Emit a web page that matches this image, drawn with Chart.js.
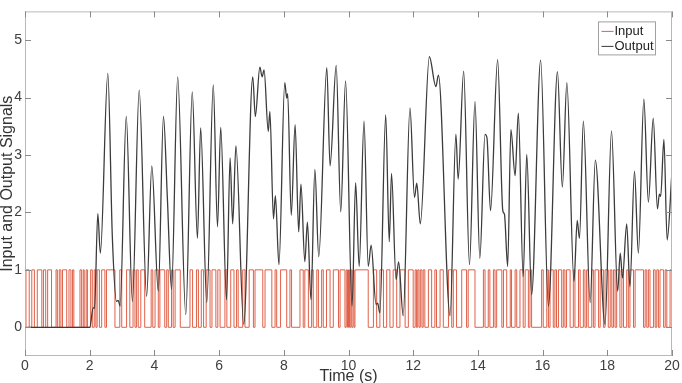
<!DOCTYPE html>
<html>
<head>
<meta charset="utf-8">
<script src="https://cdn.jsdelivr.net/npm/chart.js@4.4.1/dist/chart.umd.min.js"></script>
<style>
  html, body { margin: 0; padding: 0; background: #ffffff; }
  #wrap { width: 682px; height: 383px; }
</style>
</head>
<body>
<div id="wrap"><canvas id="grafico" width="682" height="383"></canvas></div>
<script>
// ==================== DADOS ====================
// tempos em que a entrada binária muda de nível (começa em 0)
const inputEdges = [
  0.03, 0.13, 0.21, 0.29, 0.38, 0.52, 0.57, 0.64, 0.70, 0.82, 0.96, 1.00, 1.06, 1.11, 1.16, 1.29,
  1.36, 1.42, 1.47, 1.51, 1.70, 1.75, 1.80, 1.83, 1.89, 1.93, 2.03, 2.08, 2.14, 2.19, 2.23, 2.30,
  2.37, 2.47, 2.52, 2.78, 2.93, 2.99, 3.14, 3.24, 3.34, 3.40, 3.45, 3.50, 3.58, 3.70, 3.90, 3.95,
  4.02, 4.12, 4.17, 4.32, 4.38, 4.43, 4.53, 4.58, 4.64, 4.80, 5.10, 5.18, 5.30, 5.36, 5.45, 5.52,
  5.60, 5.72, 5.78, 5.90, 5.96, 6.03, 6.18, 6.24, 6.36, 6.46, 6.54, 6.59, 6.73, 6.80, 6.93, 7.06,
  7.11, 7.35, 7.42, 7.63, 7.73, 7.78, 7.90, 8.09, 8.19, 8.24, 8.50, 8.60, 8.65, 8.76, 8.86, 8.91,
  9.02, 9.07, 9.17, 9.22, 9.32, 9.43, 9.53, 9.69, 9.74, 9.89, 9.93, 9.97, 10.00, 10.03, 10.07, 10.10,
  10.14, 10.17, 10.20, 10.61, 10.77, 10.87, 10.97, 11.08, 11.18, 11.28, 11.38, 11.49, 11.59, 11.75,
  11.85, 12.00, 12.06, 12.10, 12.14, 12.18, 12.22, 12.27, 12.31, 12.36, 12.47, 12.57, 12.67, 12.72,
  12.83, 12.93, 13.09, 13.19, 13.24, 13.34, 13.50, 13.65, 13.70, 13.91, 14.17, 14.22, 14.32, 14.37,
  14.48, 14.53, 14.58, 14.74, 14.79, 14.89, 15.00, 15.04, 15.15, 15.20, 15.30, 15.40, 15.46, 15.56,
  15.61, 15.66, 15.97, 16.02, 16.13, 16.18, 16.23, 16.33, 16.38, 16.43, 16.49, 16.59, 16.64, 16.69,
  16.74, 16.85, 16.95, 17.00, 17.11, 17.16, 17.26, 17.31, 17.36, 17.41, 17.52, 17.57, 17.62, 17.73,
  17.78, 17.88, 17.93, 18.03, 18.09, 18.14, 18.19, 18.24, 18.29, 18.39, 18.45, 18.50, 18.60, 18.65,
  18.70, 18.81, 18.86, 19.12, 19.17, 19.22, 19.27, 19.32, 19.43, 19.48, 19.53, 19.58, 19.63, 19.74,
  19.79, 19.84, 19.94
];

// saída (picos e vales)
const outTimes = [
  0, 2.00, 2.11, 2.15, 2.25, 2.33, 2.56, 2.70, 2.83, 2.88, 2.94, 3.13, 3.32, 3.53, 3.76, 3.92,
  4.12, 4.28, 4.40, 4.53, 4.72, 4.97, 5.17, 5.33, 5.43, 5.62, 5.82, 5.95, 6.05, 6.23, 6.34, 6.42,
  6.52, 6.76, 7.04, 7.12, 7.26, 7.33, 7.39, 7.52, 7.57, 7.68, 7.74, 7.85, 8.03, 8.09, 8.12, 8.23,
  8.35, 8.46, 8.53, 8.65, 8.73, 8.84, 8.96, 9.08, 9.33, 9.43, 9.62, 9.76, 9.91, 10.11, 10.22, 10.33,
  10.48, 10.61, 10.70, 10.85, 10.90, 10.97, 11.15, 11.26, 11.33, 11.47, 11.55, 11.69, 11.90, 12.04,
  12.11, 12.22, 12.50, 12.70, 12.78, 13.14, 13.32, 13.39, 13.56, 13.74, 13.91, 14.06, 14.22, 14.28,
  14.39, 14.61, 14.77, 14.82, 14.92, 15.02, 15.15, 15.25, 15.40, 15.51, 15.66, 15.94, 16.18, 16.46,
  16.61, 16.75, 16.97, 17.07, 17.14, 17.26, 17.47, 17.63, 17.93, 18.13, 18.32, 18.40, 18.47, 18.60,
  18.70, 18.84, 18.96, 19.13, 19.27, 19.42, 19.55, 19.61, 19.65, 19.75, 19.85, 20.00
];
const outValues = [
  0, 0, 0.34, 0.33, 1.98, 1.29, 4.42, 1.57, 0.45, 0.47, 0.37, 3.67, 0.45, 4.13, 0.54, 2.81,
  0.63, 3.67, 2.26, 0.66, 4.36, 0.22, 4.10, 1.55, 3.47, 0.43, 4.22, 1.75, 3.48, 0.48, 2.95, 1.80,
  3.16, 0.05, 4.36, 3.67, 4.53, 4.36, 4.48, 3.41, 3.76, 1.89, 2.29, 1.09, 4.26, 3.99, 4.07, 1.95,
  3.53, 1.66, 2.49, 1.14, 1.83, 0.48, 2.75, 1.23, 4.52, 2.81, 4.56, 2.01, 4.29, 0.37, 2.52, 1.06,
  3.59, 1.06, 1.43, 0.40, 0.42, 0.25, 3.70, 1.49, 2.68, 0.83, 1.14, 0.20, 3.82, 2.26,
  2.51, 1.80, 4.71, 4.19, 4.39, 0.20, 3.36, 2.58, 4.46, 1.09, 3.93, 1.20, 3.36, 3.30,
  2.03, 4.66, 2.03, 1.97, 1.06, 3.44, 2.64, 3.73, 0.88, 3.01, 0.57, 4.65, 0.37, 4.45,
  2.44, 4.26, 0.80, 1.86, 1.55, 3.59, 0.43, 2.91, 0.05, 3.42, 0.63, 1.29, 0.86, 1.80,
  0.71, 2.72, 1.29, 3.97, 2.18, 3.64, 2.06, 2.32, 2.28, 3.27, 1.52, 2.72
];

const xTicks = [0, 2, 4, 6, 8, 10, 12, 14, 16, 18, 20];
const yTicks = [0, 1, 2, 3, 4, 5];

// ==================== MONTAGEM DAS SÉRIES ====================
function montarEntrada() {
  const pts = [{ x: 0, y: 0 }];
  let nivel = 0;
  inputEdges.forEach(t => {
    nivel = 1 - nivel;
    pts.push({ x: t, y: nivel });
  });
  pts.push({ x: 20, y: nivel });
  return pts;
}
const inputData = montarEntrada();
const outputData = outTimes.map((t, i) => ({ x: t, y: outValues[i] }));

const fonte = "'Liberation Sans', Arial, sans-serif";

// ==================== PLUGIN: CAIXA, TICKS INTERNOS E LEGENDA ====================
const estiloMatlab = {
  id: 'estiloMatlab',
  afterDatasetsDraw(chart) {
    const { ctx, chartArea: a, scales } = chart;
    ctx.save();
    ctx.strokeStyle = '#b8b8b8';
    ctx.lineWidth = 1;
    ctx.strokeRect(a.left + 0.5, a.top + 0.5, a.right - a.left - 1, a.bottom - a.top - 1);

    ctx.strokeStyle = '#8a8a8a';
    ctx.beginPath();
    xTicks.forEach(v => {
      const px = Math.round(scales.x.getPixelForValue(v)) + 0.5;
      ctx.moveTo(px, a.bottom); ctx.lineTo(px, a.bottom - 6);
      ctx.moveTo(px, a.top); ctx.lineTo(px, a.top + 6);
    });
    yTicks.forEach(v => {
      const py = Math.round(scales.y.getPixelForValue(v)) + 0.5;
      ctx.moveTo(a.left, py); ctx.lineTo(a.left + 6, py);
      ctx.moveTo(a.right, py); ctx.lineTo(a.right - 6, py);
    });
    ctx.stroke();

    // legenda
    const bx = a.right - 73.5, by = a.top + 10.5, bw = 57, bh = 33;
    ctx.fillStyle = '#ffffff';
    ctx.fillRect(bx, by, bw, bh);
    ctx.strokeStyle = '#a0a0a0';
    ctx.strokeRect(bx, by, bw, bh);
    ctx.font = '13px ' + fonte;
    ctx.textBaseline = 'middle';
    chart.data.datasets.forEach((ds, i) => {
      const yy = by + 9.5 + i * 15;
      ctx.strokeStyle = ds.borderColor;
      ctx.lineWidth = 1;
      ctx.beginPath();
      ctx.moveTo(bx + 3, yy); ctx.lineTo(bx + 15, yy);
      ctx.stroke();
      ctx.fillStyle = '#222222';
      ctx.fillText(ds.label, bx + 16, yy + 0.5);
    });
    ctx.restore();
  }
};

// ==================== GRÁFICO ====================
new Chart(document.getElementById('grafico'), {
  type: 'line',
  data: {
    datasets: [
      {
        label: 'Input',
        data: inputData,
        borderColor: '#e06048',
        borderWidth: 1,
        stepped: true,
        pointRadius: 0,
        order: 2
      },
      {
        label: 'Output',
        data: outputData,
        borderColor: '#3c3c3c',
        borderWidth: 1.3,
        cubicInterpolationMode: 'monotone',
        pointRadius: 0,
        order: 1
      }
    ]
  },
  options: {
    responsive: false,
    animation: false,
    layout: { padding: { top: 10, right: 10, left: 0, bottom: 0 } },
    plugins: {
      legend: { display: false },
      tooltip: { enabled: false }
    },
    scales: {
      x: {
        type: 'linear',
        min: 0,
        max: 20,
        afterBuildTicks: s => { s.ticks = xTicks.map(v => ({ value: v })); },
        afterFit: s => { s.height = 27; },
        grid: { display: false, drawTicks: false },
        border: { display: false },
        ticks: { color: '#404040', font: { family: fonte, size: 14 }, padding: 2, maxRotation: 0 },
        title: {
          display: true, text: 'Time (s)', color: '#333333',
          font: { family: fonte, size: 16 }, padding: { top: 0, bottom: -3 }
        }
      },
      y: {
        min: -0.5,
        max: 5.5,
        afterBuildTicks: s => { s.ticks = yTicks.map(v => ({ value: v })); },
        afterFit: s => { s.width = 25; },
        grid: { display: false, drawTicks: false },
        border: { display: false },
        ticks: { color: '#404040', font: { family: fonte, size: 14 }, padding: 3 },
        title: {
          display: true, text: 'Input and Output Signals', color: '#333333',
          font: { family: fonte, size: 16 }, padding: { top: -2, bottom: 0 }
        }
      }
    }
  },
  plugins: [estiloMatlab]
});
</script>
</body>
</html>
